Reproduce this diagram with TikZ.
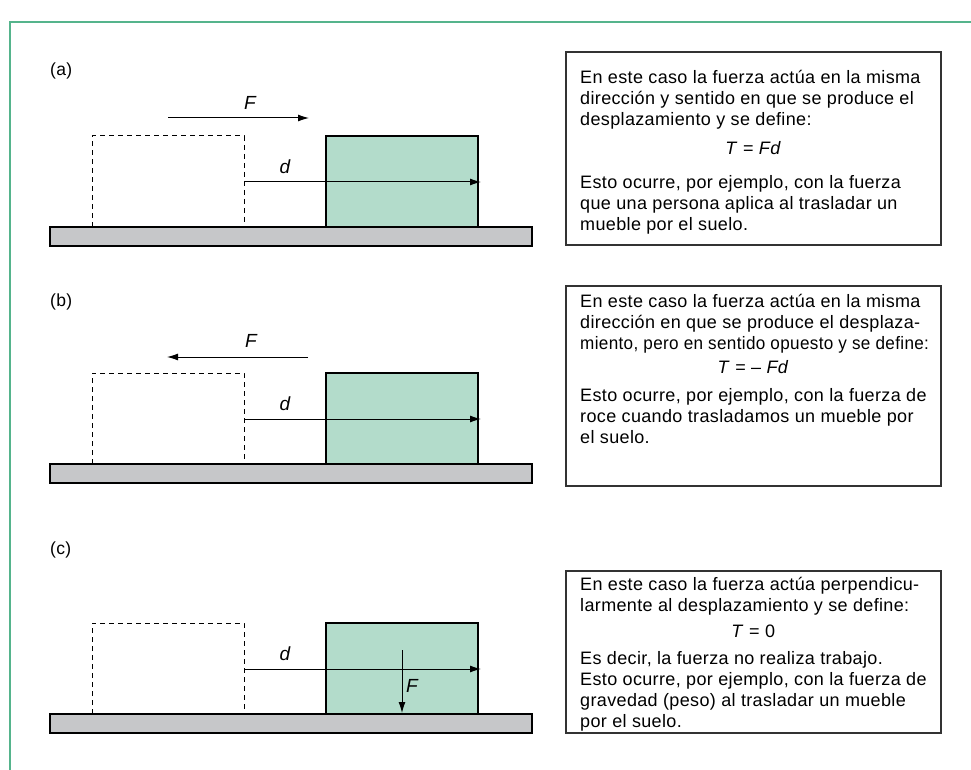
\documentclass[tikz,border=0pt]{standalone}
\usepackage{fontspec}
\setmainfont{Liberation Sans}[LetterSpace=2]
\usetikzlibrary{calc,arrows.meta}

\definecolor{framegreen}{RGB}{85,180,140}
\definecolor{boxgreen}{RGB}{179,220,203}
\definecolor{groundgray}{RGB}{198,199,201}

\tikzset{
	ground/.style={draw=black, fill=groundgray, line width=1.2pt},
	oldpos/.style={draw=black, dash pattern=on 5pt off 4pt, line width=1pt},
	newpos/.style={draw=black, fill=boxgreen, line width=1.2pt},
	vec/.style={-{Latex[length=11pt,width=7pt]}, line width=1pt},
	lbl/.style={font=\fontsize{17.5}{20}\selectfont, inner sep=0pt},
	sym/.style={font=\fontsize{19}{20}\selectfont\itshape, inner sep=0pt},
	expl/.style={font=\fontsize{18}{21}\selectfont, align=left, inner sep=0pt, anchor=north west},
	exbox/.style={draw=black!80, line width=1.2pt}
}

\begin{document}
\begin{tikzpicture}[x=1pt,y=-1pt]
		\useasboundingbox (0,0) rectangle (971,770);
		\draw[framegreen, line width=1.5pt] (10,770) -- (10,22) -- (971,22);
		
		\foreach \g/\l/\ly in {227/a/76,464/b/306,714/c/554}{
			\node[lbl, anchor=base west] (lab\l) at (50,\ly) {(\l)};
			\filldraw[ground] (50,\g) rectangle (532,\g+19);
			\draw[oldpos] (92,\g) -- (92,\g-91) -- (244,\g-91) -- (244,\g);
			\filldraw[newpos] (326,\g) rectangle (478,\g-91);
			\coordinate (ds\l) at (244,\g-45);
			\coordinate (de\l) at (481,\g-45);
			\draw[vec] (ds\l) -- (de\l);
			\node[sym] (dlab\l) at (285,\g-60) {d};
		}
		
		% fuerza en cada caso
		\coordinate (Fsa) at (168,118);
		\coordinate (Fea) at (309,118);
		\draw[vec] (Fsa) -- (Fea);
		\node[sym] (Flaba) at (250,103) {F};
		
		\coordinate (Fsb) at (308,357);
		\coordinate (Feb) at (167,357);
		\draw[vec] (Fsb) -- (Feb);
		\node[sym] (Flabb) at (251,341) {F};
		
		\coordinate (Fsc) at (402,650);
		\coordinate (Fec) at (402,713);
		\draw[vec] (Fsc) -- (Fec);
		\node[sym] (Flabc) at (412,686) {F};
		
		% recuadros de texto
		\draw[exbox] (566,52) rectangle (941,245);
		\node[expl] (texta) at (580,70) {En este caso la fuerza actúa en la misma\\
			dirección y sentido en que se produce el\\
			desplazamiento y se define:\\[8pt]
			\makebox[346pt]{\textit{T} = \textit{Fd}}\\[13pt]
			Esto ocurre, por ejemplo, con la fuerza\\
			que una persona aplica al trasladar un\\
			mueble por el suelo.};
		
		\draw[exbox] (566,286) rectangle (941,486);
		\node[expl] (textb) at (580,294) {En este caso la fuerza actúa en la misma\\
			dirección en que se produce el desplaza-\\
			\scalebox{0.95}[1]{miento, pero en sentido opuesto y se define:}\\[3pt]
			\makebox[346pt]{\textit{T} = -- \textit{Fd}}\\[7pt]
			Esto ocurre, por ejemplo, con la fuerza de\\
			roce cuando trasladamos un mueble por\\
			el suelo.};
		
		\draw[exbox] (566,571) rectangle (941,733);
		\node[expl] (textc) at (580,577) {En este caso la fuerza actúa perpendicu-\\
			larmente al desplazamiento y se define:\\[5pt]
			\makebox[346pt]{\textit{T} = 0}\\[6pt]
			Es decir, la fuerza no realiza trabajo.\\
			Esto ocurre, por ejemplo, con la fuerza de\\
			gravedad (peso) al trasladar un mueble\\
			por el suelo.};
	\end{tikzpicture}
\end{document}
